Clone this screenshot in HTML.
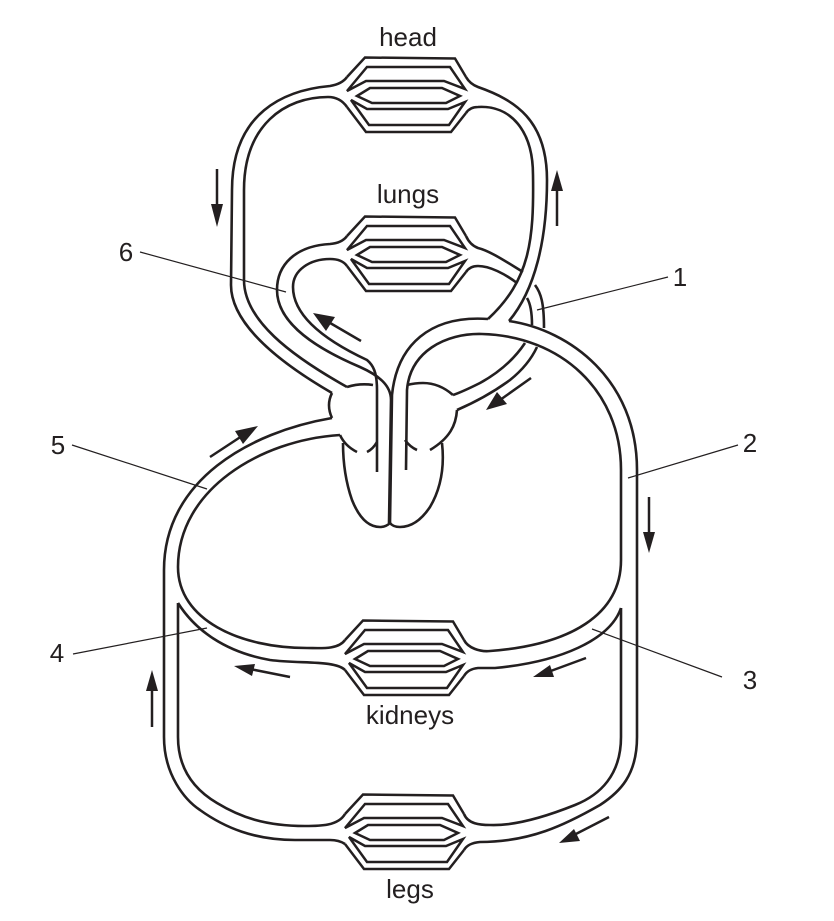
<!DOCTYPE html>
<html>
<head>
<meta charset="utf-8">
<style>
html,body{margin:0;padding:0;background:#fff;width:834px;height:921px;overflow:hidden}
svg{display:block}
text{font-family:"Liberation Sans",sans-serif;font-size:26px;fill:#231f20}
</style>
</head>
<body>
<svg width="834" height="921" viewBox="0 0 834 921" xmlns="http://www.w3.org/2000/svg">
<defs>
<g id="cap" fill="none" stroke="#231f20" stroke-width="2.5" stroke-linejoin="miter">
<path d="M347 77L365 57.5L455 58.5L466 77"/>
<path d="M347 107L366 132H451L466 113"/>
<path d="M347 91L367 67H450L465 89L444 81H366Z"/>
<path d="M357 96L370 88H442L460 96L446 103H372Z"/>
<path d="M351 100L367 109H448L465 102L449 125H369Z"/>
</g>
</defs>
<use href="#cap"/>
<use href="#cap" y="159"/>
<use href="#cap" x="-2" y="563"/>
<use href="#cap" x="-2" y="737"/>

<g fill="none" stroke="#231f20" stroke-width="2.6" stroke-linecap="butt">
<!-- head left -->
<path d="M347 77Q342 84 330 86C285 90 232 112 232 190L231 285C231 320 270 357 332 393"/>
<path d="M347 107Q340 97 328 97C285 97 244 125 244 190L244 280C244 320 290 355 347 387"/>
<!-- head right -->
<path d="M466 77Q470 84 478 87C515 100 547 120 547 180C547 240 535 290 509 321"/>
<path d="M466 113Q470 107 478 107C510 105 533 130 533 175C534 240 530 280 488 319"/>
<!-- aorta -->
<path d="M509 321C570 330 637 380 637 470L637 737C637 775 620 792 600 805C565 825 530 842 480 842Q468 843 464 850"/>
<path d="M488 319C430 315 397 345 392 395L390 523"/>
<path d="M406 470L407 390C410 352 445 333 482 334C560 336 621 390 621 470L621 560C621 615 570 645 490 651C480 652 468 648 464 640"/>
<path d="M621 608L621 737C621 775 600 795 575 805C545 817 515 826 490 825C480 825 468 824 464 814"/>
<path d="M621 608C610 640 560 662 495 668L478 668Q468 669 464 676"/>
<!-- kidneys left and vena cava -->
<path d="M345 640C338 650 320 648 307 648C240 648 178 620 178 567C178 490 260 440 340 435"/>
<path d="M332 418C250 432 164 480 164 570L164 737C164 775 185 800 200 810C225 828 255 840 295 840L330 840Q339 840 345 844"/>
<path d="M178 603L178 737C178 770 195 790 217 803C240 817 265 826 305 826C320 826 338 826 345 814"/>
<path d="M178 603C195 630 225 652 270 660C300 664 335 660 345 670"/>
<!-- lungs -->
<path d="M347 236Q342 243 330 244C295 246 277 265 277 290C277 325 320 350 360 367C378 375 391 385 391 400L389 523"/>
<path d="M347 266Q342 259 330 259C310 259 293 270 293 287C293 320 335 345 367 360C373 365 377 372 377 390L377 472"/>
<path d="M466 236Q470 245 478 248C490 251 505 261 523 272"/>
<path d="M466 272Q470 266 478 266C490 266 505 274 517 283"/>
<path d="M535 285C541 293 544 303 544 328"/>
<path d="M527 298C530 303 532 312 532 325"/>
<path d="M525 343C515 358 500 372 480 383C470 388 462 392 453 395"/>
<path d="M537 347C530 362 520 372 510 380C495 391 480 400 457 410"/>
<!-- heart -->
<path d="M453 395C445 388 435 383 423 383Q415 383 407 385"/>
<path d="M457 410C456 425 450 438 430 450"/>
<path d="M442 443C445 470 440 490 430 507C420 522 410 527 400 527Q393 527 390 523Q386 527 380 527C370 527 360 520 352 500C345 480 343 460 343 443"/>
<path d="M417 450Q410 447 405 440"/>
<path d="M332 393Q326 405 332 418"/>
<path d="M340 435Q345 446 357 452"/>
<path d="M367 452Q373 449 377 442"/>
<path d="M347 387Q360 383 373 385"/>
</g>

<!-- leaders -->
<g stroke="#231f20" stroke-width="1.2" fill="none">
<path d="M140 252L286 292"/>
<path d="M668 277L537 310"/>
<path d="M738 445L628 478"/>
<path d="M722 677L592 629"/>
<path d="M73 654L207 628"/>
<path d="M72 445L207 489"/>
</g>

<!-- arrows -->
<g stroke="#231f20" stroke-width="2.5" fill="#231f20">
<path d="M217 169V210" fill="none"/><path stroke="none" d="M217 227L211 204H223Z"/>
<path d="M557 226V186" fill="none"/><path stroke="none" d="M557 170L551 191H563Z"/>
<path d="M361 341L325 320" fill="none"/><path stroke="none" d="M313 313L335 317L326 331Z"/>
<path d="M531 378L500 400" fill="none"/><path stroke="none" d="M486 410L497 392L507 404Z"/>
<path d="M210 457L245 434" fill="none"/><path stroke="none" d="M258 426L243 444L235 431Z"/>
<path d="M152 727V685" fill="none"/><path stroke="none" d="M152 670L146 691H158Z"/>
<path d="M649 497V538" fill="none"/><path stroke="none" d="M649 553L643 532H655Z"/>
<path d="M290 677L250 669" fill="none"/><path stroke="none" d="M234 666L255 664L252 676Z"/>
<path d="M586 658L548 672" fill="none"/><path stroke="none" d="M533 677L550 665L554 677Z"/>
<path d="M609 817L572 836" fill="none"/><path stroke="none" d="M559 843L574 829L580 841Z"/>
</g>

<text x="408" y="46" text-anchor="middle">head</text>
<text x="408" y="203" text-anchor="middle">lungs</text>
<text x="410" y="724" text-anchor="middle">kidneys</text>
<text x="410" y="898" text-anchor="middle">legs</text>
<text x="680" y="286" text-anchor="middle">1</text>
<text x="750" y="452" text-anchor="middle">2</text>
<text x="750" y="689" text-anchor="middle">3</text>
<text x="57" y="662" text-anchor="middle">4</text>
<text x="58" y="454" text-anchor="middle">5</text>
<text x="126" y="261" text-anchor="middle">6</text>
</svg>
</body>
</html>
